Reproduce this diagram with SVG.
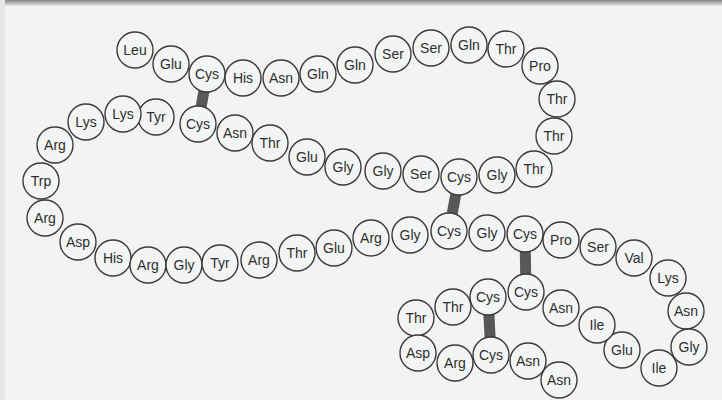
<svg xmlns="http://www.w3.org/2000/svg" width="722" height="400" viewBox="0 0 722 400">
<defs>
<linearGradient id="topband" x1="0" y1="0" x2="0" y2="1">
<stop offset="0" stop-color="#85878a"/>
<stop offset="1" stop-color="#e8eae9"/>
</linearGradient>
</defs>
<style>
.n circle{fill:#f3f5f4;stroke:#3a3a3a;stroke-width:1.4}
.n text{font-family:"Liberation Sans",Arial,sans-serif;font-size:14px;fill:#2e2e2e;text-anchor:middle}
.ss{stroke:#585858;stroke-width:11;stroke-linecap:butt}
</style>
<rect x="0" y="0" width="722" height="400" fill="#f2f4f3"/>
<rect x="0" y="0" width="722" height="6" fill="url(#topband)"/>
<rect x="0" y="0" width="5" height="400" fill="#e6e8e7"/>
<g id="connectors">
<line class="ss" x1="207" y1="74" x2="198" y2="124"/>
<line class="ss" x1="459" y1="177" x2="449" y2="231"/>
<line class="ss" x1="525" y1="234" x2="526" y2="292"/>
<line class="ss" x1="488" y1="297" x2="491" y2="355"/>
</g>
<g id="n1" class="n"><circle cx="135" cy="50" r="18"/><text x="135" y="55">Leu</text></g>
<g id="n2" class="n"><circle cx="171" cy="64" r="18"/><text x="171" y="69">Glu</text></g>
<g id="n3" class="n"><circle cx="207" cy="74" r="18"/><text x="207" y="79">Cys</text></g>
<g id="n4" class="n"><circle cx="243" cy="78" r="18"/><text x="243" y="83">His</text></g>
<g id="n5" class="n"><circle cx="281" cy="78" r="18"/><text x="281" y="83">Asn</text></g>
<g id="n6" class="n"><circle cx="318" cy="74" r="18"/><text x="318" y="79">Gln</text></g>
<g id="n7" class="n"><circle cx="355" cy="65" r="18"/><text x="355" y="70">Gln</text></g>
<g id="n8" class="n"><circle cx="393" cy="54" r="18"/><text x="393" y="59">Ser</text></g>
<g id="n9" class="n"><circle cx="431" cy="48" r="18"/><text x="431" y="53">Ser</text></g>
<g id="n10" class="n"><circle cx="469" cy="45" r="18"/><text x="469" y="50">Gln</text></g>
<g id="n11" class="n"><circle cx="506" cy="49" r="18"/><text x="506" y="54">Thr</text></g>
<g id="n12" class="n"><circle cx="540" cy="66" r="18"/><text x="540" y="71">Pro</text></g>
<g id="n13" class="n"><circle cx="557" cy="99" r="18"/><text x="557" y="104">Thr</text></g>
<g id="n14" class="n"><circle cx="554" cy="136" r="18"/><text x="554" y="141">Thr</text></g>
<g id="n15" class="n"><circle cx="534" cy="169" r="18"/><text x="534" y="174">Thr</text></g>
<g id="n16" class="n"><circle cx="497" cy="175" r="18"/><text x="497" y="180">Gly</text></g>
<g id="n17" class="n"><circle cx="459" cy="177" r="18"/><text x="459" y="182">Cys</text></g>
<g id="n18" class="n"><circle cx="421" cy="174" r="18"/><text x="421" y="179">Ser</text></g>
<g id="n19" class="n"><circle cx="383" cy="171" r="18"/><text x="383" y="176">Gly</text></g>
<g id="n20" class="n"><circle cx="343" cy="167" r="18"/><text x="343" y="172">Gly</text></g>
<g id="n21" class="n"><circle cx="307" cy="157" r="18"/><text x="307" y="162">Glu</text></g>
<g id="n22" class="n"><circle cx="270" cy="143" r="18"/><text x="270" y="148">Thr</text></g>
<g id="n23" class="n"><circle cx="235" cy="133" r="18"/><text x="235" y="138">Asn</text></g>
<g id="n24" class="n"><circle cx="198" cy="124" r="18"/><text x="198" y="129">Cys</text></g>
<g id="n25" class="n"><circle cx="156" cy="117" r="18"/><text x="156" y="122">Tyr</text></g>
<g id="n26" class="n"><circle cx="123" cy="114" r="18"/><text x="123" y="119">Lys</text></g>
<g id="n27" class="n"><circle cx="86" cy="122" r="18"/><text x="86" y="127">Lys</text></g>
<g id="n28" class="n"><circle cx="55" cy="145" r="18"/><text x="55" y="150">Arg</text></g>
<g id="n29" class="n"><circle cx="41" cy="181" r="18"/><text x="41" y="186">Trp</text></g>
<g id="n30" class="n"><circle cx="45" cy="218" r="18"/><text x="45" y="223">Arg</text></g>
<g id="n31" class="n"><circle cx="78" cy="242" r="18"/><text x="78" y="247">Asp</text></g>
<g id="n32" class="n"><circle cx="113" cy="258" r="18"/><text x="113" y="263">His</text></g>
<g id="n33" class="n"><circle cx="148" cy="265" r="18"/><text x="148" y="270">Arg</text></g>
<g id="n34" class="n"><circle cx="184" cy="265" r="18"/><text x="184" y="270">Gly</text></g>
<g id="n35" class="n"><circle cx="220" cy="263" r="18"/><text x="220" y="268">Tyr</text></g>
<g id="n36" class="n"><circle cx="259" cy="260" r="18"/><text x="259" y="265">Arg</text></g>
<g id="n37" class="n"><circle cx="297" cy="253" r="18"/><text x="297" y="258">Thr</text></g>
<g id="n38" class="n"><circle cx="334" cy="248" r="18"/><text x="334" y="253">Glu</text></g>
<g id="n39" class="n"><circle cx="371" cy="238" r="18"/><text x="371" y="243">Arg</text></g>
<g id="n40" class="n"><circle cx="410" cy="235" r="18"/><text x="410" y="240">Gly</text></g>
<g id="n41" class="n"><circle cx="449" cy="231" r="18"/><text x="449" y="236">Cys</text></g>
<g id="n42" class="n"><circle cx="487" cy="233" r="18"/><text x="487" y="238">Gly</text></g>
<g id="n43" class="n"><circle cx="525" cy="234" r="18"/><text x="525" y="239">Cys</text></g>
<g id="n44" class="n"><circle cx="561" cy="240" r="18"/><text x="561" y="245">Pro</text></g>
<g id="n45" class="n"><circle cx="598" cy="247" r="18"/><text x="598" y="252">Ser</text></g>
<g id="n46" class="n"><circle cx="634" cy="258" r="18"/><text x="634" y="263">Val</text></g>
<g id="n47" class="n"><circle cx="668" cy="278" r="18"/><text x="668" y="283">Lys</text></g>
<g id="n48" class="n"><circle cx="686" cy="311" r="18"/><text x="686" y="316">Asn</text></g>
<g id="n49" class="n"><circle cx="689" cy="347" r="18"/><text x="689" y="352">Gly</text></g>
<g id="n50" class="n"><circle cx="659" cy="368" r="18"/><text x="659" y="373">Ile</text></g>
<g id="n51" class="n"><circle cx="622" cy="350" r="18"/><text x="622" y="355">Glu</text></g>
<g id="n52" class="n"><circle cx="597" cy="325" r="18"/><text x="597" y="330">Ile</text></g>
<g id="n53" class="n"><circle cx="561" cy="308" r="18"/><text x="561" y="313">Asn</text></g>
<g id="n54" class="n"><circle cx="526" cy="292" r="18"/><text x="526" y="297">Cys</text></g>
<g id="n55" class="n"><circle cx="488" cy="297" r="18"/><text x="488" y="302">Cys</text></g>
<g id="n56" class="n"><circle cx="453" cy="307" r="18"/><text x="453" y="312">Thr</text></g>
<g id="n57" class="n"><circle cx="416" cy="318" r="18"/><text x="416" y="323">Thr</text></g>
<g id="n58" class="n"><circle cx="418" cy="353" r="18"/><text x="418" y="358">Asp</text></g>
<g id="n59" class="n"><circle cx="455" cy="363" r="18"/><text x="455" y="368">Arg</text></g>
<g id="n60" class="n"><circle cx="491" cy="355" r="18"/><text x="491" y="360">Cys</text></g>
<g id="n61" class="n"><circle cx="528" cy="361" r="18"/><text x="528" y="366">Asn</text></g>
<g id="n62" class="n"><circle cx="559" cy="380" r="18"/><text x="559" y="385">Asn</text></g>
</svg>
